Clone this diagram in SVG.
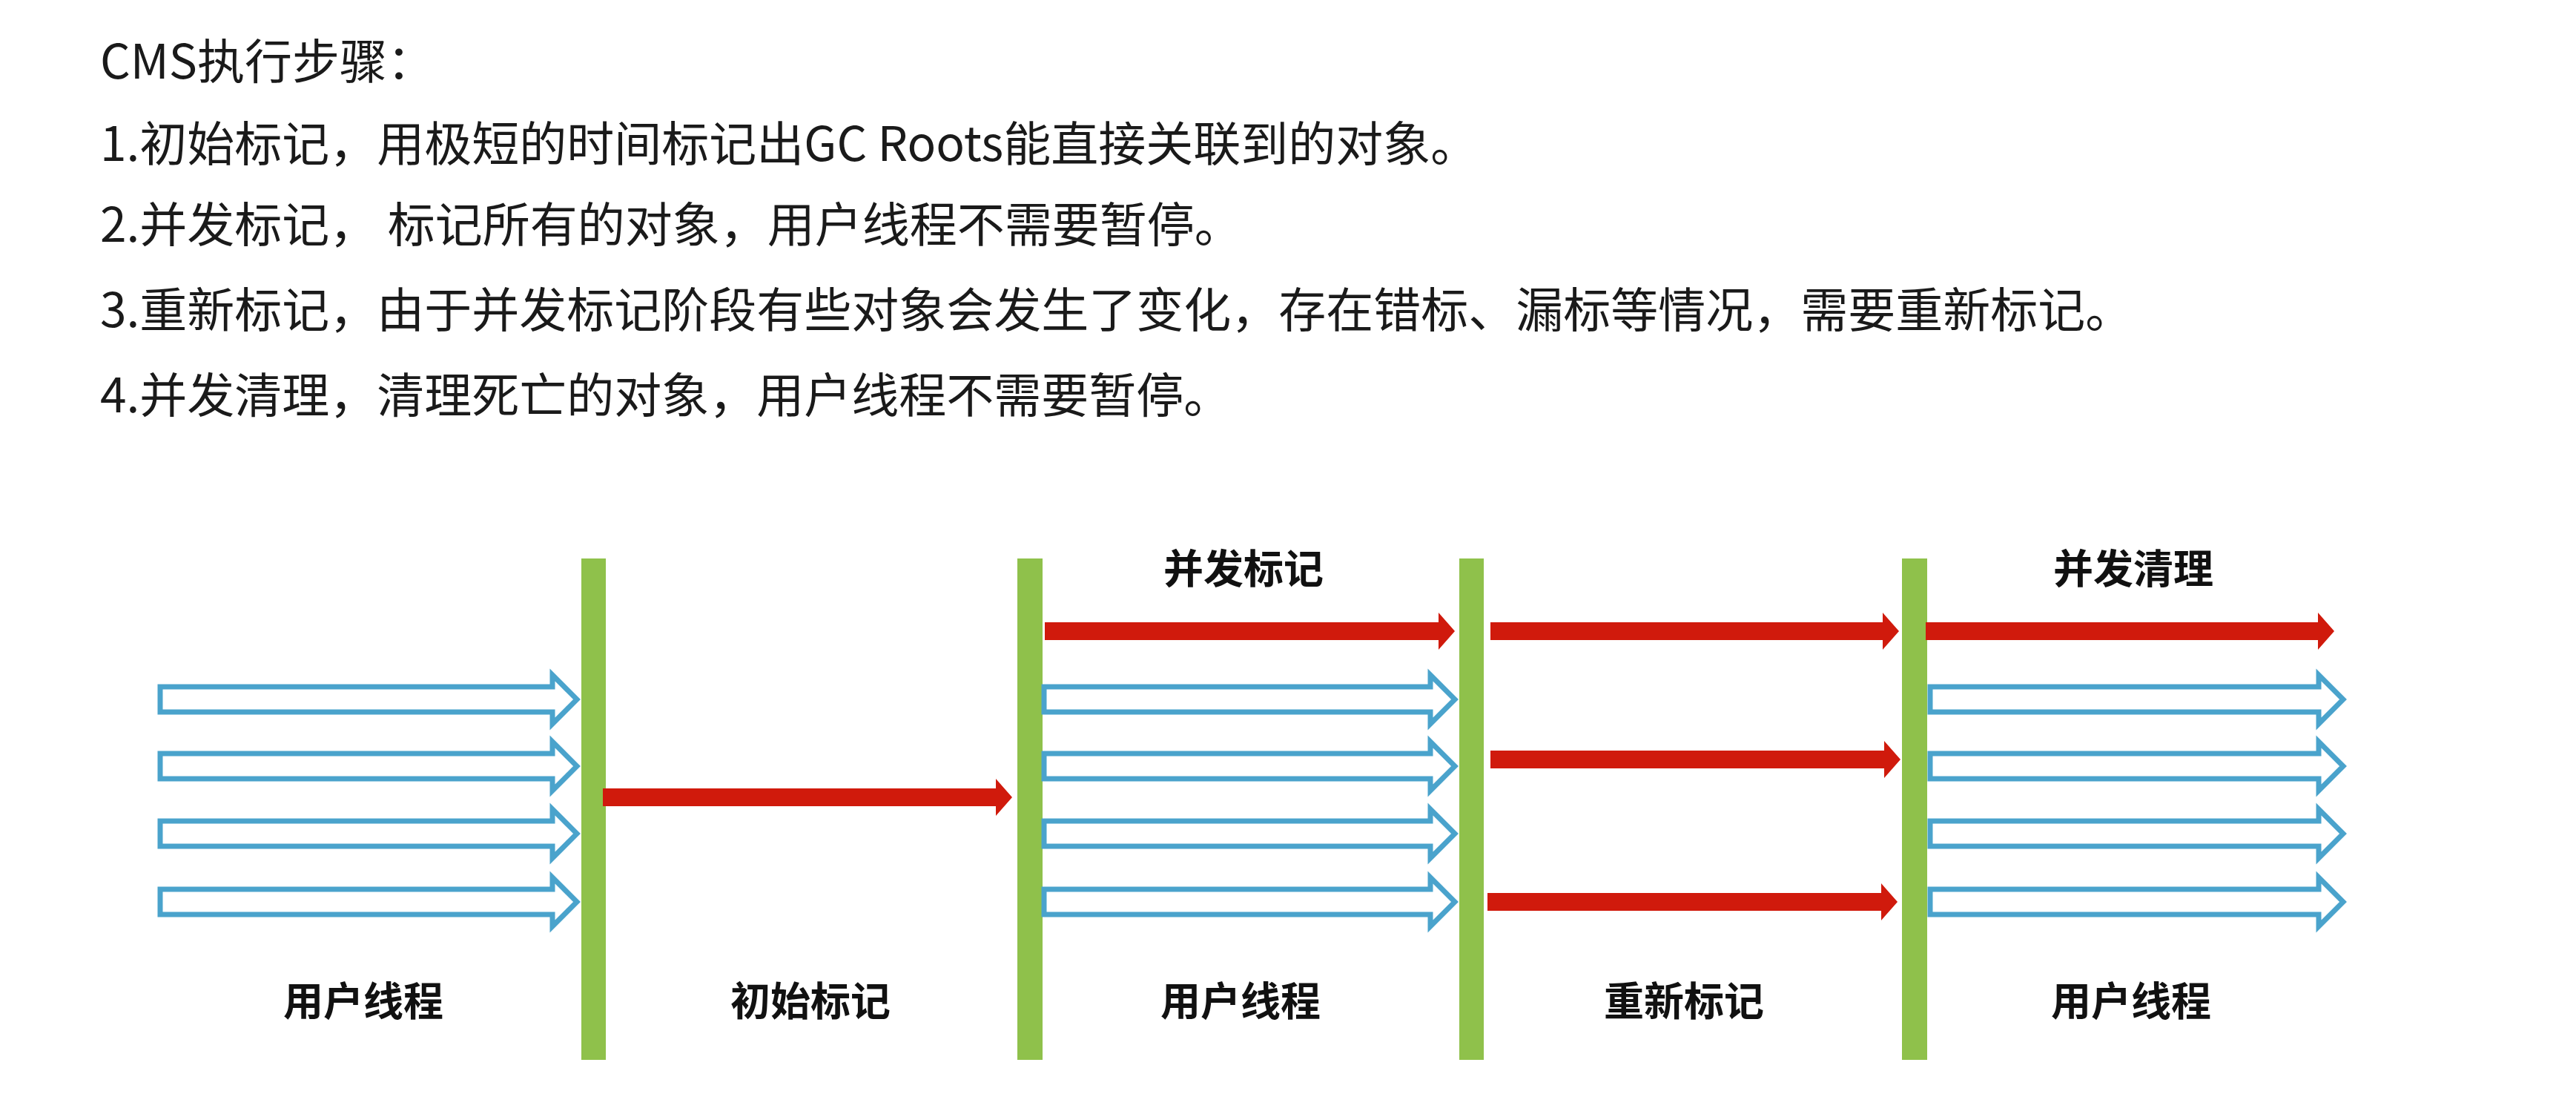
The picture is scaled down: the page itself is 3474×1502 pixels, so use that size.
<svg xmlns="http://www.w3.org/2000/svg" width="3474" height="1502" viewBox="0 0 3474 1502">
<defs>
<style>
.h{font-family:"Noto Sans CJK SC","Liberation Sans",sans-serif;font-size:64px;fill:#1a1a1a}
.l{font-family:"Noto Sans CJK SC","Liberation Sans",sans-serif;font-size:54px;font-weight:bold;fill:#111;text-anchor:middle}
.bar{fill:#8fc14b}
.red{fill:#d01a0c}
.blue{fill:#fff;stroke:#4aa3cc;stroke-width:7}
</style>
</defs>
<rect width="3474" height="1502" fill="#fff"/>
<g id="text">
<text class="h" x="135" y="106">CMS执行步骤：</text>
<text class="h" x="135" y="217">1.初始标记，用极短的时间标记出GC Roots能直接关联到的对象。</text>
<text class="h" x="135" y="326">2.并发标记， 标记所有的对象，用户线程不需要暂停。</text>
<text class="h" x="135" y="441">3.重新标记，由于并发标记阶段有些对象会发生了变化，存在错标、漏标等情况，需要重新标记。</text>
<text class="h" x="135" y="556">4.并发清理，清理死亡的对象，用户线程不需要暂停。</text>
</g>
<g id="bars">
<rect class="bar" x="784" y="753" width="33" height="676"/>
<rect class="bar" x="1372" y="753" width="34" height="676"/>
<rect class="bar" x="1968" y="753" width="33" height="676"/>
<rect class="bar" x="2565" y="753" width="34" height="676"/>
</g>
<g id="connectors">
<g class="blue">
<path d="M216,926 H745 V910 L778,943 L745,976 V960 H216 Z"/>
<path d="M216,1016 H745 V1000 L778,1033 L745,1066 V1050 H216 Z"/>
<path d="M216,1107 H745 V1091 L778,1124 L745,1157 V1141 H216 Z"/>
<path d="M216,1199 H745 V1183 L778,1216 L745,1249 V1233 H216 Z"/>
<path d="M1408,926 H1929 V910 L1962,943 L1929,976 V960 H1408 Z"/>
<path d="M1408,1016 H1929 V1000 L1962,1033 L1929,1066 V1050 H1408 Z"/>
<path d="M1408,1107 H1929 V1091 L1962,1124 L1929,1157 V1141 H1408 Z"/>
<path d="M1408,1199 H1929 V1183 L1962,1216 L1929,1249 V1233 H1408 Z"/>
<path d="M2603,926 H3127 V910 L3160,943 L3127,976 V960 H2603 Z"/>
<path d="M2603,1016 H3127 V1000 L3160,1033 L3127,1066 V1050 H2603 Z"/>
<path d="M2603,1107 H3127 V1091 L3160,1124 L3127,1157 V1141 H2603 Z"/>
<path d="M2603,1199 H3127 V1183 L3160,1216 L3127,1249 V1233 H2603 Z"/>
</g>
<g class="red">
<path d="M813,1063 H1343 V1050 L1365,1075 L1343,1100 V1087 H813 Z"/>
<path d="M1409,839 H1940 V826 L1962,851 L1940,876 V863 H1409 Z"/>
<path d="M2010,839 H2539 V826 L2561,851 L2539,876 V863 H2010 Z"/>
<path d="M2597,839 H3126 V826 L3148,851 L3126,876 V863 H2597 Z"/>
<path d="M2010,1012 H2541 V999 L2563,1024 L2541,1049 V1036 H2010 Z"/>
<path d="M2006,1204 H2537 V1191 L2559,1216 L2537,1241 V1228 H2006 Z"/>
</g>
</g>
<g id="labels">
<text class="l" x="1677" y="787">并发标记</text>
<text class="l" x="2877" y="787">并发清理</text>
<text class="l" x="490" y="1370">用户线程</text>
<text class="l" x="1093" y="1370">初始标记</text>
<text class="l" x="1673" y="1370">用户线程</text>
<text class="l" x="2271" y="1370">重新标记</text>
<text class="l" x="2874" y="1370">用户线程</text>
</g>
</svg>
